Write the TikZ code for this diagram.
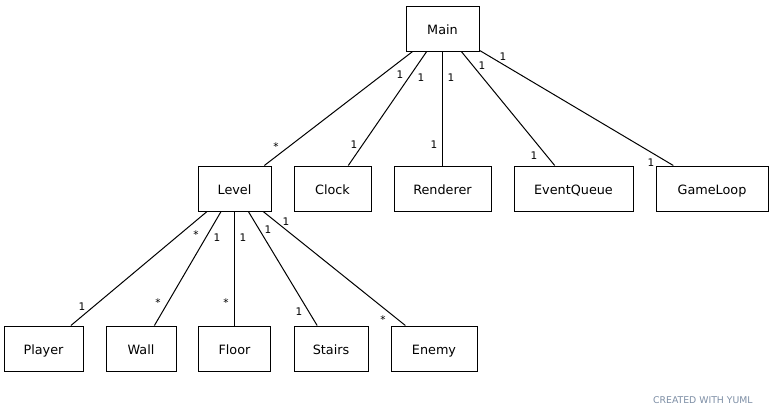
\documentclass[tikz,border=0pt]{standalone}
\usepackage{fontspec}
\setmainfont{DejaVu Sans}
\definecolor{yumlgray}{RGB}{125,142,165}
\begin{document}
\begin{tikzpicture}[x=1pt,y=-1pt,
  box/.style={draw=black,line width=1pt,fill=white,inner sep=0pt,minimum height=45pt,text height=12.5pt,text depth=0.9pt,font=\fontsize{12.8}{15}\selectfont},
  mult/.style={inner sep=0pt,font=\fontsize{10.5}{12}\selectfont},
  conn/.style={draw=black,line width=1pt}]
\useasboundingbox (0,0) rectangle (774,415);
\fill[white] (0,0) rectangle (774,415);
% classes
\node[box,minimum width=73pt] (main) at (442.5,28.5) {Main};
\node[box,minimum width=73pt] (level) at (234.5,188.5) {Level};
\node[box,minimum width=77pt] (clock) at (332.5,188.5) {Clock};
\node[box,minimum width=97pt] (renderer) at (442.5,188.5) {Renderer};
\node[box,minimum width=119pt] (eventqueue) at (573.5,188.5) {EventQueue};
\node[box,minimum width=112pt] (gameloop) at (712,188.5) {GameLoop};
\node[box,minimum width=79pt] (player) at (43.5,348.5) {Player};
\node[box,minimum width=70pt] (wall) at (141,348.5) {Wall};
\node[box,minimum width=72pt] (floor) at (234.5,348.5) {Floor};
\node[box,minimum width=74pt] (stairs) at (331,348.5) {Stairs};
\node[box,minimum width=86pt] (enemy) at (434,348.5) {Enemy};
% associations
\draw[conn] (main) -- (level);
\draw[conn] (main) -- (clock);
\draw[conn] (main) -- (renderer);
\draw[conn] (main) -- (eventqueue);
\draw[conn] (main) -- (gameloop);
\draw[conn] (level) -- (player);
\draw[conn] (level) -- (wall);
\draw[conn] (level) -- (floor);
\draw[conn] (level) -- (stairs);
\draw[conn] (level) -- (enemy);
% multiplicities
\node[mult] (m1a) at (400,75) {1};
\node[mult] (m1b) at (276,147) {*};
\node[mult] (m2a) at (421,78) {1};
\node[mult] (m2b) at (354,145) {1};
\node[mult] (m3a) at (451,78) {1};
\node[mult] (m3b) at (434,145) {1};
\node[mult] (m4a) at (482,66) {1};
\node[mult] (m4b) at (534,155.5) {1};
\node[mult] (m5a) at (503,57) {1};
\node[mult] (m5b) at (651,163) {1};
\node[mult] (l1a) at (196,235) {*};
\node[mult] (l1b) at (82,306.5) {1};
\node[mult] (l2a) at (217,238) {1};
\node[mult] (l2b) at (158,303) {*};
\node[mult] (l3a) at (243,238) {1};
\node[mult] (l3b) at (226,303) {*};
\node[mult] (l4a) at (268,229.5) {1};
\node[mult] (l4b) at (299,312) {1};
\node[mult] (l5a) at (286,221.5) {1};
\node[mult] (l5b) at (383,320) {*};
% watermark
\node[inner sep=0pt,anchor=west,text=yumlgray,font=\fontsize{9.3}{11}\selectfont] (yuml) at (653,400) {CREATED WITH YUML};
\end{tikzpicture}
\end{document}
